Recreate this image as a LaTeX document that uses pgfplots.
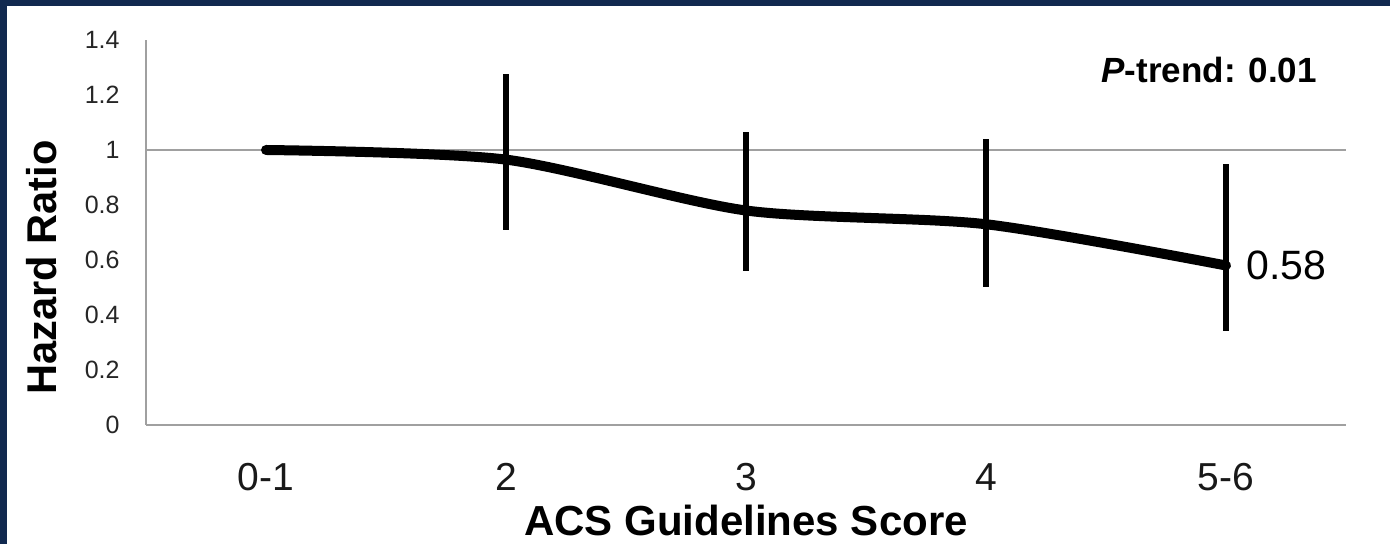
\documentclass[border=0pt]{standalone}
\usepackage{pgfplots}
\pgfplotsset{compat=1.18}
\usepackage{fontspec}
\setmainfont{Liberation Sans}
\definecolor{navyframe}{HTML}{11294F}
\definecolor{axgray}{HTML}{A0A0A0}
\begin{document}
\begin{tikzpicture}
\fill[navyframe] (0,0) rectangle (695pt,272pt);
\fill[white] (3.6pt,0) rectangle (695pt,269pt);
\begin{axis}[
  at={(73pt,59.5pt)}, anchor=south west,
  scale only axis, width=600pt, height=192.5pt,
  xmin=-0.5, xmax=4.5, ymin=0, ymax=1.4,
  xtick={0,1,2,3,4}, xticklabels={0-1,2,3,4,5-6},
  ytick={0,0.2,0.4,0.6,0.8,1,1.2,1.4},
  yticklabels={0,0.2,0.4,0.6,0.8,1,1.2,1.4},
  /pgf/number format/assume math mode=true,
  axis x line*=bottom, axis y line*=left,
  axis line style={axgray, line width=1pt, -},
  major tick length=0pt,
  yticklabel style={font=\fontsize{12.5}{15}\selectfont, text=black!85, anchor=east, inner sep=0pt, xshift=-13pt},
  xticklabel style={font=\fontsize{19.5}{23}\selectfont, text=black!90, anchor=center, inner sep=0pt, yshift=-26pt},
  xlabel={ACS Guidelines Score},
  xlabel style={font=\bfseries\fontsize{21}{25}\selectfont, at={(axis description cs:0.5,0)}, anchor=center, yshift=-47.5pt},
  ylabel={Hazard Ratio},
  ylabel style={font=\bfseries\fontsize{20.8}{25}\selectfont, at={(axis description cs:-0.0867,0.409)}, anchor=center, rotate=0},
  clip=false,
]
\draw[axgray, line width=1pt] (axis cs:-0.5,1) -- (axis cs:4.5,1);
\addplot[black, line width=5pt, line cap=round, line join=round, smooth, tension=0.45,
  error bars/.cd, y dir=both, y explicit, error mark=none,
  error bar style={line width=3.3pt, black, line cap=butt}]
  table[x=x, y=y, y error plus=ep, y error minus=em] {
x y ep em
0 1.00 0 0
1 0.965 0.31 0.255
2 0.78 0.285 0.22
3 0.73 0.31 0.23
4 0.58 0.37 0.24
};
\node[anchor=base east, inner sep=0pt, font=\bfseries\fontsize{17.5}{20}\selectfont] at (axis cs:4.38,1.244) {\textit{P}-trend: 0.01};
\node[anchor=west, inner sep=0pt, font=\fontsize{20.5}{24}\selectfont, xshift=10pt] at (axis cs:4,0.58) {0.58};
\end{axis}
\end{tikzpicture}
\end{document}
